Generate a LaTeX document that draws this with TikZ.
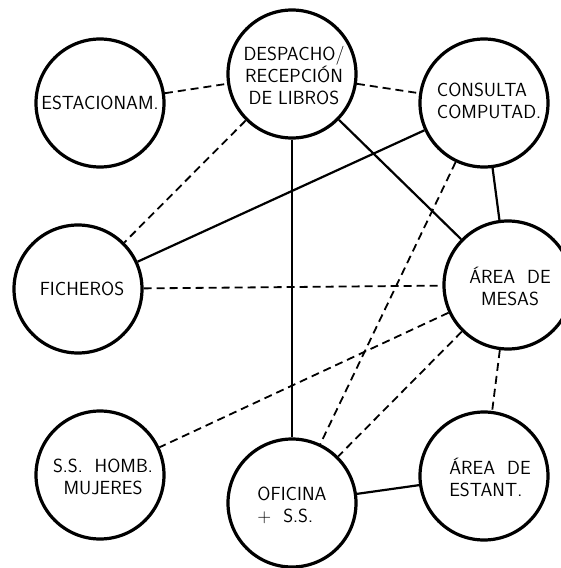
\documentclass[tikz,border=0pt]{standalone}
\begin{document}
\begin{tikzpicture}[x=1pt,y=-1pt,
  room/.style={circle,draw,line width=3.2pt,minimum size=128pt,inner sep=0pt},
  lbl/.style={font=\sffamily\fontsize{19}{22}\selectfont,inner sep=0pt},
  link/.style={line width=2.2pt},
  dlink/.style={line width=1.8pt,dash pattern=on 8pt off 5pt}]
\clip (0,0) rectangle (561,568);
\fill[white] (0,0) rectangle (561,568);
% rooms
\node[room] (est) at (100,103) {};
\node[room] (desp) at (292,74) {};
\node[room] (cons) at (484,103) {};
\node[room] (fich) at (78,289) {};
\node[room] (mesas) at (508,285) {};
\node[room] (ssh) at (100,475) {};
\node[room] (ofic) at (292,503) {};
\node[room] (estant) at (484,476) {};
% labels
\node[lbl] (testl) at (100,103) {ESTACIONAM.};
\node[lbl,align=center] (tdesp) at (294,76) {DESPACHO/\\RECEPCIÓN\\DE LIBROS};
\node[lbl,align=left] (tcons) at (489,101) {CONSULTA\\COMPUTAD.};
\node[lbl] (tfich) at (82,289) {FICHEROS};
\node[lbl,align=center] (tmesas) at (510,286) {ÁREA\ \ DE\\MESAS};
\node[lbl,align=center] (tssh) at (103,477) {S.S.\ \ HOMB.\\MUJERES};
\node[lbl,align=left] (tofic) at (292,505) {OFICINA\\+\ \ S.S.};
\node[lbl,align=left] (testant) at (490,477) {ÁREA\ \ DE\\ESTANT.};
% solid connectors
\draw[link] (desp) -- (ofic);
\draw[link] (desp) -- (mesas);
\draw[link] (cons) -- (fich);
\draw[link] (cons) -- (mesas);
\draw[link] (ofic) -- (estant);
% dashed connectors
\draw[dlink] (est) -- (desp);
\draw[dlink] (desp) -- (cons);
\draw[dlink] (desp) -- (fich);
\draw[dlink] (fich) -- (mesas);
\draw[dlink] (cons) -- (ofic);
\draw[dlink] (mesas) -- (ssh);
\draw[dlink] (mesas) -- (ofic);
\draw[dlink] (mesas) -- (estant);
\end{tikzpicture}
\end{document}
